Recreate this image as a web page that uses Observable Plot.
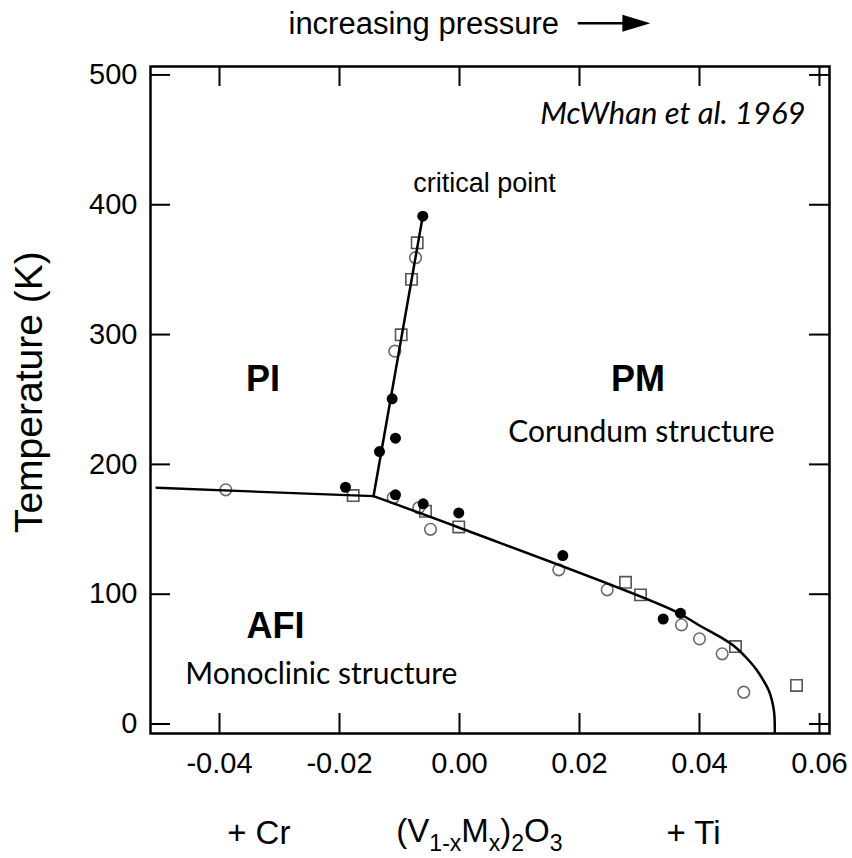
<!DOCTYPE html>
<html><head><meta charset="utf-8">
<script src="https://cdn.jsdelivr.net/npm/d3@7"></script>
<script src="https://cdn.jsdelivr.net/npm/@observablehq/plot@0.6"></script>
<style>html,body{margin:0;padding:0;background:#fff;} #chart svg{display:block}</style>
</head><body><div id="chart"></div>
<script>
// ---- data (x = doping, T = temperature in K) ----
const xTicks = [-0.04, -0.02, 0.00, 0.02, 0.04, 0.06];
const yTicks = [0, 100, 200, 300, 400, 500];

const filledCircles = [
  [-0.00612, 391.2], [-0.01122, 250.5], [-0.01067, 220.2], [-0.01333, 209.9],
  [-0.0190, 182.4], [-0.01067, 176.6], [-0.00605, 169.6], [-0.00012, 162.6],
  [0.01722, 129.8], [0.03395, 80.9], [0.03683, 85.4]
];
const openCircles = [
  [-0.00733, 359.2], [-0.01078, 287.2], [-0.03895, 180.4], [-0.01105, 174.3],
  [-0.00678, 166.6], [-0.00483, 150.0], [0.01655, 118.8], [0.02462, 103.4],
  [0.0370, 76.4], [0.0400, 65.6], [0.04378, 54.1], [0.04738, 24.5]
];
const openSquares = [
  [-0.00705, 370.7], [-0.0080, 342.5], [-0.00972, 299.8], [-0.01772, 176.0],
  [-0.00567, 163.9], [-0.00012, 151.8], [0.02767, 109.2], [0.03017, 99.5],
  [0.0460, 59.7], [0.05617, 29.7]
];
const boundaryLeft = [[-0.0505, 182.0], [-0.01433, 175.5]];
const boundaryUpper = [[-0.01433, 175.5], [-0.00612, 391.2]];
const boundaryLower = [
  [-0.01433, 175.5], [0.0, 151.2], [0.0357, 87.4], [0.0400, 75.9], [0.0435, 66.9],
  [0.0460, 59.2], [0.0485, 47.6], [0.0496, 41.2], [0.05155, 25.8], [0.0524, 10.4], [0.05255, -6.0]
];

const phaseLabels = ["PI", "PM", "AFI"];
const structureLabels = ["Corundum structure", "Monoclinic structure"];
const topLabel = "increasing pressure";
const creditLabel = "McWhan et al. 1969";
const criticalLabel = "critical point";
const yLabel = "Temperature (K)";
const bottomLabels = ["+ Cr", "(V1-xMx)2O3", "+ Ti"];
const formulaParts = [["(V", false], ["1-x", true], ["M", false], ["x", true], [")", false], ["2", true], ["O", false], ["3", true]];

// ---- layout ----
const W = 852, H = 858;
const mL = 150, mR = 23, mT = 66, mB = 125;
const innerW = W - mL - mR, innerH = H - mT - mB;
const tickLen = 20;
const sans = "Liberation Sans, Arial, Helvetica, sans-serif";
const humanist = "Lato, 'Open Sans', sans-serif";

const arrowHead = {draw(ctx) { ctx.moveTo(14, 0); ctx.lineTo(-14, -8.5); ctx.lineTo(-14, 8.5); ctx.closePath(); }};
const txt = (s, o) => Plot.text([s], {text: d => d, fontFamily: sans, fill: "black", lineAnchor: "bottom", ...o});

const chart = Plot.plot({
  width: W, height: H,
  marginLeft: mL, marginRight: mR, marginTop: mT, marginBottom: mB,
  style: {background: "white", fontFamily: sans, overflow: "visible"},
  x: {domain: [-0.0515, 0.06167]},
  y: {domain: [-7.3, 506.5]},
  marks: [
    Plot.frame({stroke: "black", strokeWidth: 2.5}),
    Plot.tickX(xTicks, {stroke: "black", strokeWidth: 2, insetTop: innerH - tickLen}),
    Plot.tickX(xTicks, {stroke: "black", strokeWidth: 2, insetBottom: innerH - tickLen}),
    Plot.tickY(yTicks, {stroke: "black", strokeWidth: 2, insetRight: innerW - tickLen}),
    Plot.tickY(yTicks, {stroke: "black", strokeWidth: 2, insetLeft: innerW - tickLen}),
    Plot.axisX({ticks: xTicks, tickSize: 0, tickPadding: 19, fontSize: 29, label: null,
      tickFormat: d => d.toFixed(2)}),
    Plot.axisY({ticks: yTicks, tickSize: 0, tickPadding: 13, fontSize: 29, label: null,
      tickFormat: d => String(d)}),
    // data symbols
    Plot.dot(openCircles, {x: d => d[0], y: d => d[1], r: 5.8, stroke: "#6a6a6a", strokeWidth: 1.6, fill: "white"}),
    Plot.dot(openSquares, {x: d => d[0], y: d => d[1], r: 6.4, symbol: "square", stroke: "#555", strokeWidth: 1.6, fill: "none"}),
    // phase boundaries
    Plot.line(boundaryLeft, {x: d => d[0], y: d => d[1], stroke: "black", strokeWidth: 2.3}),
    Plot.line(boundaryUpper, {x: d => d[0], y: d => d[1], stroke: "black", strokeWidth: 2.5}),
    Plot.line(boundaryLower, {x: d => d[0], y: d => d[1], stroke: "black", strokeWidth: 2.5, curve: "catmull-rom"}),
    Plot.dot(filledCircles, {x: d => d[0], y: d => d[1], r: 5.5, fill: "black"}),
    // annotations
    txt(topLabel, {x: () => -0.0285, y: () => 531.7, fontSize: 31, textAnchor: "start"}),
    Plot.link([0], {x1: () => 0.0197, x2: () => 0.0285, y1: () => 539.9, y2: () => 539.9, stroke: "black", strokeWidth: 2.5}),
    Plot.dot([0], {x: () => 0.02948, y: () => 539.9, symbol: arrowHead, fill: "black", stroke: "none"}),
    txt(creditLabel, {x: () => 0.05767, y: () => 462.4, fontSize: 31, fontStyle: "italic", fontFamily: humanist, textAnchor: "end"}),
    txt(criticalLabel, {x: () => 0.00417, y: () => 410.2, fontSize: 27}),
    txt(phaseLabels[0], {x: () => -0.03275, y: () => 256.4, fontSize: 36, fontWeight: "bold"}),
    txt(phaseLabels[1], {x: () => 0.02975, y: () => 256.4, fontSize: 36, fontWeight: "bold"}),
    txt(phaseLabels[2], {x: () => -0.03067, y: () => 66.6, fontSize: 36, fontWeight: "bold"}),
    txt(structureLabels[0], {x: () => 0.03033, y: () => 217.6, fontSize: 30, fontFamily: humanist}),
    txt(structureLabels[1], {x: () => -0.02303, y: () => 31.0, fontSize: 30, fontFamily: humanist}),
    txt(yLabel, {x: () => -0.0716, y: () => 255.6, fontSize: 39, rotate: -90, lineAnchor: "middle"}),
    txt(bottomLabels[0], {x: () => -0.03345, y: () => -92.3, fontSize: 33}),
    txt(bottomLabels[1], {x: () => 0.00333, y: () => -91.0, fontSize: 33}),
    txt(bottomLabels[2], {x: () => 0.0390, y: () => -92.3, fontSize: 33})
  ]
});

// render the formula with real subscripts
d3.select(chart).selectAll("text").filter(function() { return this.textContent === bottomLabels[1]; })
  .each(function() {
    const t = d3.select(this);
    t.text(null);
    let down = false;
    formulaParts.forEach(([s, sub]) => {
      const sp = t.append("tspan").text(s).attr("font-size", sub ? 23 : 33);
      if (sub && !down) { sp.attr("dy", 9); down = true; }
      else if (!sub && down) { sp.attr("dy", -9); down = false; }
    });
  });

document.getElementById("chart").append(chart);
</script></body></html>
